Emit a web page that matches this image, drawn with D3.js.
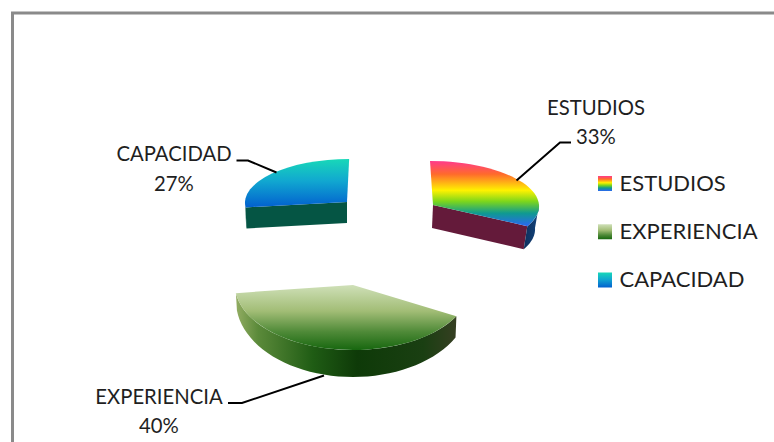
<!DOCTYPE html>
<html><head><meta charset="utf-8">
<script src="https://cdn.jsdelivr.net/npm/d3@7"></script>
<style>html,body{margin:0;background:#fff}svg{display:block}text{font-family:Lato,"Open Sans",sans-serif;fill:#1f1f1f}</style>
</head><body><script>
const categories = ["ESTUDIOS", "EXPERIENCIA", "CAPACIDAD"];
const shares = [33, 40, 27];

const width = 774, height = 442;
// Projected geometry of each exploded slice (the reference has perspective)
const sliceGeom = [
  {cx:433, cy:205, rx:106, ry:44, shear:0.068, ry2:44, rx2:103, dx:-1, dy:23, wall:"#641a3a", rim:"rim0"},
  {cx:353, cy:285, rx:118, ry:65, shear:0,     ry2:76, rx2:117, dx:0,  dy:16, wall:"#1c4a12", rim:"rim1"},
  {cx:347, cy:202, rx:102, ry:43, shear:-0.05, ry2:43, rx2:101, dx:0,  dy:21, wall:"#055544", rim:"rim2"}
];
const leaders = [
  [[516.5,180.5],[560,142.5],[571,142.5]],
  [[324,375.5],[242,403],[228,403]],
  [[276.5,172.5],[248,160.5],[236.5,160.5]]
];
const labelPos = [
  {x:596, y1:115, y2:144},
  {x:159, y1:404, y2:433},
  {x:174, y1:161, y2:191}
];
const gradStops = [
  [["0","#ff3a8c"],["0.2","#ff6a2c"],["0.45","#fff200"],["0.62","#7cd61c"],["0.8","#0f9a90"],["1","#2a66f2"]],
  [["0","#cfe0b8"],["0.4","#a2bd76"],["0.72","#4f8a38"],["1","#17670f"]],
  [["0","#18d8b8"],["0.45","#11a8d0"],["1","#0260cf"]]
];
const rimStops = [
  [["0","#0d2f5c"],["1","#14447c"]],
  [["0","#93ad63"],["0.1","#5b8a3a"],["0.35","#1f5c14"],["0.55","#0e3a08"],["0.85","#1a3f12"],["1","#363f22"]],
  [["0","#055544"],["1","#055544"]]
];

const svg = d3.select("body").append("svg").attr("width", width).attr("height", height);
const defs = svg.append("defs");
function gradient(id, stops, horizontal){
  const g = defs.append("linearGradient").attr("id", id)
    .attr("x1",0).attr("y1",0).attr("x2",horizontal?1:0).attr("y2",horizontal?0:1);
  stops.forEach(s => g.append("stop").attr("offset",s[0]).attr("stop-color",s[1]));
}
categories.forEach((c,i)=>{
  gradient("top"+i, gradStops[i], false);
  gradient("rim"+i, rimStops[i], true);
});

// frame
svg.append("path").attr("d",`M12.5,${height}V13H${width}`).attr("fill","none").attr("stroke","#8a8a8a").attr("stroke-width",3);

const pie = d3.pie().sort(null).value(d=>d);
const arcs = pie(shares);

function proj(g,a){ const x=Math.sin(a), y=-Math.cos(a);
  return [g.cx+g.rx*x+g.shear*g.ry*y, g.cy+g.ry*y]; }
function projLow(g,a){ const x=Math.sin(a), y=-Math.cos(a);
  return [g.cx+g.dx+g.rx2*x+g.shear*g.ry2*y, g.cy+g.dy+g.ry2*y]; }
const line = d3.line();
const unitArc = d3.arc().innerRadius(0).outerRadius(1);

arcs.forEach((d,i)=>{
  const g = sliceGeom[i], G = svg.append("g");
  // interior cut walls
  [d.startAngle,d.endAngle].forEach(a=>{
    const visible = a>Math.PI/2 && a<Math.PI*1.9;
    if(!visible || i===1) return;
    const t=proj(g,a), b=projLow(g,a);
    G.append("path").attr("d",line([[g.cx,g.cy],t,b,[g.cx+g.dx,g.cy+g.dy]])+"Z").attr("fill",g.wall);
  });
  // outer rim
  const lo=Math.max(d.startAngle,Math.PI/2), hi=Math.min(d.endAngle,Math.PI*1.5);
  if(hi>lo){
    const s=d3.range(0,41).map(k=>lo+(hi-lo)*k/40);
    G.append("path").attr("d",line(s.map(a=>proj(g,a)).concat(s.slice().reverse().map(a=>projLow(g,a))))+"Z")
      .attr("fill",`url(#${g.rim})`);
  }
  // top face
  G.append("path").attr("d",unitArc(d))
    .attr("transform",`matrix(${g.rx},0,${g.shear*g.ry},${g.ry},${g.cx},${g.cy})`)
    .attr("fill",`url(#top${i})`);
  // leader
  svg.append("path").attr("d",line(leaders[i])).attr("fill","none").attr("stroke","#000").attr("stroke-width",2);
  // data labels
  const p=labelPos[i], t=svg.append("g").attr("text-anchor","middle").attr("font-size",20.3);
  t.append("text").attr("x",p.x).attr("y",p.y1).text(categories[i]);
  t.append("text").attr("x",p.x).attr("y",p.y2).text(shares[i]+"%");
});

// legend
const legendY = d3.scalePoint().domain(categories).range([183.5,280]);
const leg = svg.append("g").selectAll("g").data(categories).join("g")
  .attr("transform",c=>`translate(0,${legendY(c)})`);
leg.append("rect").attr("x",598).attr("y",-7.5).attr("width",14).attr("height",15)
  .attr("fill",(c,i)=>`url(#top${i})`);
leg.append("text").attr("x",619.5).attr("y",7).attr("font-size",22).text(c=>c);
</script></body></html>
